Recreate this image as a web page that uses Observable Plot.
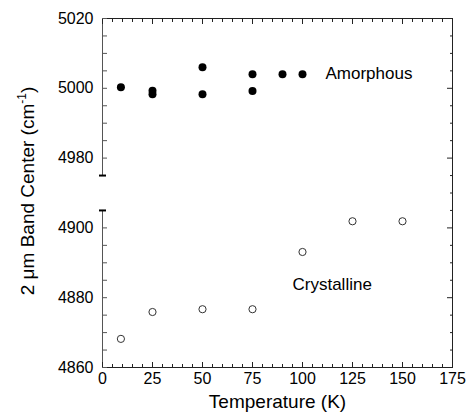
<!DOCTYPE html>
<html>
<head>
<meta charset="utf-8">
<script src="https://cdn.jsdelivr.net/npm/d3@7"></script>
<script src="https://cdn.jsdelivr.net/npm/@observablehq/plot@0.6"></script>
<style>
  html, body { margin: 0; padding: 0; background: white; }
</style>
</head>
<body>
<div id="chart"></div>
<script>
// ---- data ----
const amorphTemp = [9.2, 25, 25, 50, 50, 75, 75, 90, 100];
const amorphBand = [5000.3, 4999.3, 4998.3, 5006.0, 4998.3, 5004.0, 4999.2, 5004.0, 5004.0];
const crystTemp = [9.2, 25, 50, 75, 100, 125, 150];
const crystBand = [4868.2, 4875.9, 4876.7, 4876.7, 4893.1, 4901.9, 4901.9];

const seriesLabels = ["Amorphous", "Crystalline"];
const seriesLabelTemp = [111.5, 95];
const seriesLabelBand = [5004.3, 4883.8];

const xDomain = [0, 175];
const xMajorTicks = [0, 25, 50, 75, 100, 125, 150, 175];
const xMinorTicks = d3.range(0, 176, 5);

// broken y axis: lower and upper segments
const lowerSeg = [4860, 4905];
const upperSeg = [4975, 5020];
const gapUnits = 10;
const yLabelTicks = [4860, 4880, 4900, 4980, 5000, 5020];
const yMinorLower = d3.range(4860, 4901, 5);
const yMinorUpper = d3.range(4980, 5021, 5);

const xTitle = "Temperature (K)";
const yTitleMain = "2 \u03bcm Band Center (cm";
const yTitleSup = "-1";
const yTitleEnd = ")";

// map a real value onto the continuous (gapped) pseudo coordinate
function pseudo(v) {
  return v >= upperSeg[0] ? v - upperSeg[0] + lowerSeg[1] + gapUnits : v;
}
function unpseudo(p) {
  return p > lowerSeg[1] ? p - lowerSeg[1] - gapUnits + upperSeg[0] : p;
}
const yDomain = [lowerSeg[0], pseudo(upperSeg[1])];
const rightTicks = d3.range(yDomain[0], yDomain[1] + 0.1, 5);
const rightMajor = rightTicks.filter(d => (d - yDomain[0]) % 20 === 0);
const rightMinor = rightTicks.filter(d => (d - yDomain[0]) % 20 !== 0);

const amorph = amorphTemp.map((t, i) => ({t, b: amorphBand[i]}));
const cryst = crystTemp.map((t, i) => ({t, b: crystBand[i]}));
const annot = seriesLabels.map((s, i) => ({s, t: seriesLabelTemp[i], b: seriesLabelBand[i]}));
const segments = [lowerSeg, upperSeg];
const breaks = [pseudo(lowerSeg[1]), pseudo(upperSeg[0])];

const dash = {
  draw(context, size) {
    const w = Math.sqrt(size / Math.PI);
    context.moveTo(-w, 0);
    context.lineTo(w, 0);
  }
};

const ink = "#222";

const chart = Plot.plot({
  width: 468,
  height: 413,
  marginLeft: 102,
  marginRight: 16,
  marginTop: 18,
  marginBottom: 46,
  x: {domain: xDomain, label: null, axis: null},
  y: {domain: yDomain, label: null, axis: null},
  style: {fontFamily: "'Liberation Sans', Arial, Helvetica, sans-serif", fontSize: "16px", color: "black", background: "white", overflow: "visible"},
  marks: [
    Plot.frame({anchor: "top", stroke: ink}),
    Plot.frame({anchor: "right", stroke: ink}),
    Plot.frame({anchor: "bottom", stroke: ink}),
    Plot.ruleX(segments, {x: xDomain[0], y1: d => pseudo(d[0]), y2: d => pseudo(d[1]), stroke: "#555"}),
    // x ticks (inward), bottom and top
    Plot.axisX(xMinorTicks, {anchor: "bottom", tickSize: -3, text: null, stroke: ink, label: null}),
    Plot.axisX(xMajorTicks, {anchor: "bottom", tickSize: -5, text: null, stroke: ink, label: null}),
    Plot.axisX(xMinorTicks, {anchor: "top", tickSize: -3, text: null, stroke: ink, label: null}),
    Plot.axisX(xMajorTicks, {anchor: "top", tickSize: -5, text: null, stroke: ink, label: null}),
    Plot.axisX(xMajorTicks, {anchor: "bottom", tickSize: 0, tickPadding: 5, fontSize: 16, tickFormat: d => String(d), label: null}),
    // y ticks left (inward)
    Plot.axisY([...yMinorLower, ...yMinorUpper].map(pseudo), {anchor: "left", tickSize: -5, text: null, stroke: "#555", label: null}),
    Plot.axisY(yLabelTicks.map(pseudo), {anchor: "left", tickSize: 0, tickPadding: 9, fontSize: 16, tickFormat: d => String(Math.round(unpseudo(d))), label: null}),
    // y ticks right (inward)
    Plot.axisY(rightMinor, {anchor: "right", tickSize: -3, text: null, stroke: ink, label: null}),
    Plot.axisY(rightMajor, {anchor: "right", tickSize: -6, text: null, stroke: ink, label: null}),
    // break marks
    Plot.dot(breaks, {x: xDomain[0], y: d => d, symbol: dash, r: 3.5, stroke: "black", strokeWidth: 2, fill: "none"}),
    // data
    Plot.dot(cryst, {x: "t", y: d => pseudo(d.b), r: 3.6, stroke: "#333", strokeWidth: 1, fill: "white"}),
    Plot.dot(amorph, {x: "t", y: d => pseudo(d.b), r: 4, fill: "black", stroke: "none"}),
    Plot.text(annot, {x: "t", y: d => pseudo(d.b), text: "s", textAnchor: "start", fontSize: 17, fill: "black"}),
    // axis titles
    Plot.text([xTitle], {frameAnchor: "bottom", dy: 40, lineAnchor: "bottom", fontSize: 19, fill: "black"}),
    Plot.text([yTitleMain], {frameAnchor: "left", dx: -69, dy: -2, rotate: -90, lineAnchor: "bottom", textAnchor: "middle", fontSize: 19, fill: "black"})
  ]
});

document.getElementById("chart").appendChild(chart);

// add superscript to the y title
d3.select(chart).selectAll("text")
  .filter(function () { return this.textContent === yTitleMain; })
  .each(function () {
    const t = d3.select(this);
    t.append("tspan").attr("dy", -8).attr("font-size", 12).text(yTitleSup);
    t.append("tspan").attr("dy", 8).text(yTitleEnd);
  });
</script>
</body>
</html>
